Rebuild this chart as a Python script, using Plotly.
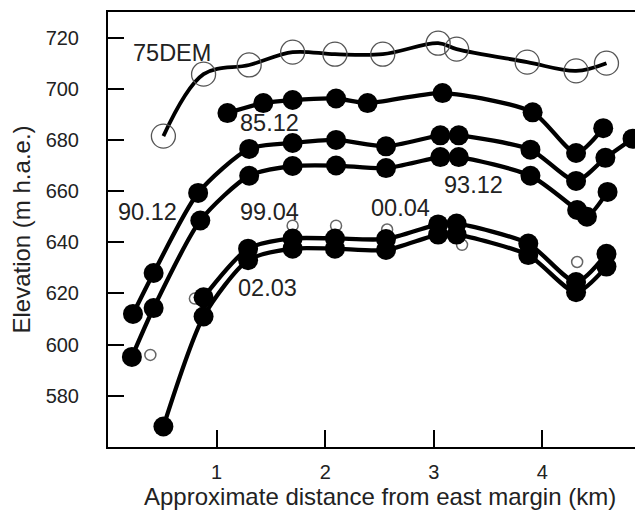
import plotly.graph_objects as go

# ---- data ----
dem_x = [0.51, 0.88, 1.30, 1.70, 2.09, 2.53, 3.04, 3.21, 3.86, 4.31, 4.59]
dem_y = [681.5, 705.7, 709.3, 714.3, 713.5, 713.5, 717.8, 715.5, 710.4, 707.0, 710.0]

s8512_x = [1.10, 1.43, 1.70, 2.10, 2.39, 3.08, 3.91, 4.31, 4.56]
s8512_y = [690.5, 694.4, 695.6, 696.2, 694.4, 698.3, 690.8, 674.9, 684.6]

s9012_x = [0.23, 0.42, 0.83, 1.30, 1.70, 2.10, 2.56, 3.06, 3.23, 3.89, 4.31, 4.58, 4.83]
s9012_y = [612.0, 628.0, 659.3, 676.5, 678.8, 680.0, 677.5, 681.8, 681.8, 676.2, 664.0, 673.0, 680.5]

s9312_x = [0.22, 0.42, 0.85, 1.30, 1.70, 2.10, 2.56, 3.06, 3.23, 3.89, 4.32, 4.41, 4.60]
s9312_y = [595.2, 614.3, 648.5, 666.0, 669.8, 670.0, 669.0, 673.3, 673.3, 666.0, 652.6, 650.0, 659.7]

s9904_x = [0.88, 1.29, 1.70, 2.09, 2.56, 3.04, 3.21, 3.87, 4.31, 4.59]
s9904_y = [618.5, 637.5, 641.5, 641.5, 641.3, 647.0, 647.3, 639.5, 624.5, 635.5]

s0203_x = [0.51, 0.88, 1.29, 1.70, 2.09, 2.56, 3.04, 3.21, 3.87, 4.31, 4.59]
s0203_y = [568.0, 611.0, 633.0, 637.5, 637.5, 637.0, 643.0, 643.0, 635.0, 620.5, 630.5]

s0004_x = [0.39, 0.80, 1.70, 2.10, 2.57, 3.26, 4.32]
s0004_y = [596.0, 618.0, 646.5, 646.5, 645.0, 639.0, 632.3]

label_text = ["75DEM", "85.12", "90.12", "99.04", "00.04", "93.12", "02.03"]
label_x = [0.59, 1.49, 0.36, 1.49, 2.69, 3.37, 1.47]
label_y = [714.0, 686.6, 651.9, 651.9, 653.4, 662.4, 622.1]

x_ticks = [1, 2, 3, 4]
y_ticks = [580, 600, 620, 640, 660, 680, 700, 720]
x_title = "Approximate distance from east margin (km)"
y_title = "Elevation (m h.a.e.)"

FONT = "Liberation Sans, Arial, sans-serif"
TXT = "#222222"

fig = go.Figure()

# small open circles (drawn beneath)
fig.add_trace(go.Scatter(
    x=s0004_x, y=s0004_y, mode="markers", name="00.04",
    marker=dict(symbol="circle-open", size=11, color="#666666", line=dict(width=1.5)),
))


def filled(x, y, name, smoothing=0.7):
    return go.Scatter(
        x=x, y=y, mode="lines+markers", name=name,
        line=dict(color="black", width=4.3, shape="spline", smoothing=smoothing),
        marker=dict(color="black", size=20, symbol="circle"),
    )


fig.add_trace(filled(s0203_x, s0203_y, "02.03"))
fig.add_trace(filled(s9904_x, s9904_y, "99.04"))
fig.add_trace(filled(s9312_x, s9312_y, "93.12"))
fig.add_trace(filled(s9012_x, s9012_y, "90.12"))
fig.add_trace(filled(s8512_x, s8512_y, "85.12"))

fig.add_trace(go.Scatter(
    x=dem_x, y=dem_y, mode="lines+markers", name="75DEM",
    line=dict(color="black", width=3.8, shape="spline", smoothing=1.0),
    marker=dict(symbol="circle-open", size=24, color="#555555", line=dict(width=1.3)),
))

for t, x, y in zip(label_text, label_x, label_y):
    fig.add_annotation(x=x, y=y, text=t, showarrow=False,
                       font=dict(family=FONT, size=23.5, color=TXT))

# x-axis title as a paper-anchored annotation (kept fully inside the page)
fig.add_annotation(x=0.5, y=-0.1145, xref="paper", yref="paper", text=x_title,
                   showarrow=False, xanchor="center", yanchor="middle",
                   font=dict(family=FONT, size=24, color=TXT))

axis_common = dict(
    showgrid=False, zeroline=False, ticks="inside", tickwidth=2,
    tickcolor="black", showline=True, linecolor="black", linewidth=2,
    automargin=False, mirror=True,
)

# the page body adds an 8px offset, so margins are set 8px smaller on left/top
fig.update_layout(
    width=643, height=510,
    margin=dict(l=100, r=0, t=4, b=71),
    paper_bgcolor="white", plot_bgcolor="white",
    showlegend=False,
    font=dict(family=FONT, color=TXT),
    xaxis=dict(
        range=[0, 5.0], tickvals=x_ticks, ticklen=17,
        tickfont=dict(size=20, color=TXT), ticklabelstandoff=6,
        **axis_common,
    ),
    yaxis=dict(
        range=[560, 730], tickvals=y_ticks, ticklen=16,
        tickfont=dict(size=20, color=TXT), ticklabelstandoff=23,
        title=dict(text=y_title, font=dict(size=24, color=TXT), standoff=10),
        **axis_common,
    ),
)

fig.write_html("out.html")
